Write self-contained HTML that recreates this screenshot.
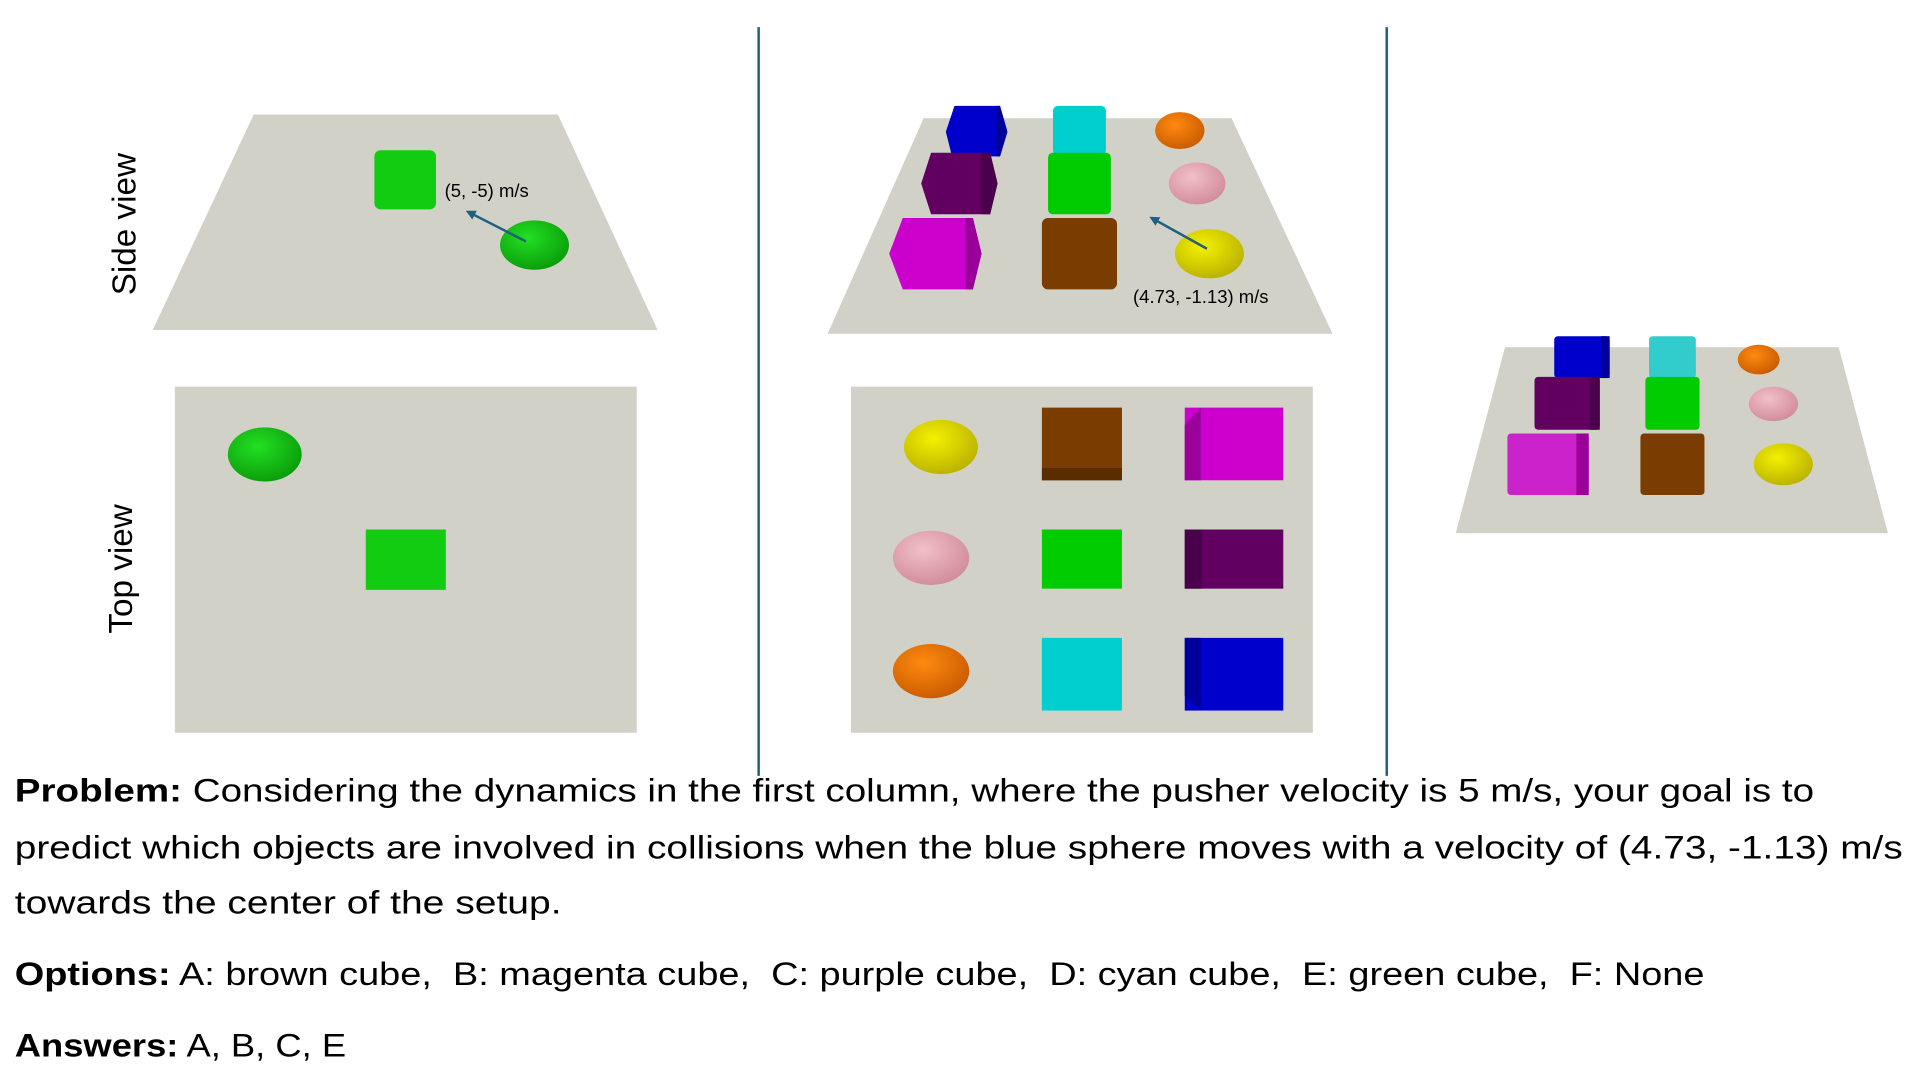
<!DOCTYPE html>
<html><head><meta charset="utf-8"><style>
html,body{margin:0;padding:0;background:#fff;width:1920px;height:1080px;overflow:hidden}
svg{display:block}
text{font-family:"Liberation Sans",sans-serif;fill:#000}
</style></head><body>
<svg width="1920" height="1080" viewBox="0 0 1559 877" preserveAspectRatio="none" xmlns="http://www.w3.org/2000/svg">
<defs>
<radialGradient id="gG" cx="40%" cy="35%" r="70%"><stop offset="0" stop-color="#22e022"/><stop offset="1" stop-color="#0a9a0a"/></radialGradient>
<radialGradient id="gY" cx="40%" cy="35%" r="70%"><stop offset="0" stop-color="#f5f000"/><stop offset="1" stop-color="#b8b000"/></radialGradient>
<radialGradient id="gP" cx="40%" cy="35%" r="70%"><stop offset="0" stop-color="#f2c0c8"/><stop offset="1" stop-color="#d08a98"/></radialGradient>
<radialGradient id="gO" cx="40%" cy="35%" r="70%"><stop offset="0" stop-color="#ff8a10"/><stop offset="1" stop-color="#c85a00"/></radialGradient>
<marker id="ar" markerWidth="8" markerHeight="8" refX="6" refY="4" orient="auto" markerUnits="userSpaceOnUse"><path d="M0,0 L8,4 L0,8 z" fill="#1f5f80"/></marker>
</defs>
<line x1="616" y1="22" x2="616" y2="630" stroke="#1f5f80" stroke-width="2"/>
<line x1="1126" y1="22" x2="1126" y2="630" stroke="#1f5f80" stroke-width="2"/>

<polygon points="206,93 453,93 534,268 124,268" fill="#d1d1c7"/>
<rect x="304" y="122" width="50" height="48" rx="5" fill="#11cc11"/>
<ellipse cx="434" cy="199" rx="28" ry="20" fill="url(#gG)"/>
<line x1="427" y1="196" x2="380" y2="172" stroke="#1f5f80" stroke-width="2" marker-end="url(#ar)"/>
<text x="361" y="160" font-size="15">(5, -5) m/s</text>
<text transform="translate(110,182) rotate(-90)" font-size="27" text-anchor="middle">Side view</text>

<rect x="142" y="314" width="375" height="281" fill="#d1d1c7"/>
<ellipse cx="215" cy="369" rx="30" ry="22" fill="url(#gG)"/>
<rect x="297" y="430" width="65" height="49" fill="#11cc11"/>
<text transform="translate(107,462) rotate(-90)" font-size="27" text-anchor="middle">Top view</text>

<polygon points="750,96 1000,96 1082,271 672,271" fill="#d1d1c7"/>
<polygon points="775,86 812,86 818,107 812,127 773,127 768,107" fill="#0000cc"/>
<polygon points="809,86 812,86 818,107 812,127 809,127" fill="#00009a"/>
<rect x="855" y="86" width="43" height="40" rx="4" fill="#00cfcf"/>
<ellipse cx="958" cy="106" rx="20" ry="15" fill="url(#gO)"/>
<polygon points="756,124 804,124 810,149 804,174 756,174 748,149" fill="#620062"/>
<polygon points="797,124 804,124 810,149 804,174 797,174" fill="#4a004a"/>
<rect x="851" y="124" width="51" height="50" rx="4" fill="#00cc00"/>
<ellipse cx="972" cy="149" rx="23" ry="17" fill="url(#gP)"/>
<polygon points="733,177 790,177 797,206 790,235 733,235 722,206" fill="#cc00cc"/>
<polygon points="784,177 790,177 797,206 790,235 784,235" fill="#9a009a"/>
<rect x="846" y="177" width="61" height="58" rx="5" fill="#7a3c00"/>
<ellipse cx="982" cy="206" rx="28" ry="20" fill="url(#gY)"/>
<line x1="980" y1="202" x2="935" y2="177" stroke="#1f5f80" stroke-width="2" marker-end="url(#ar)"/>
<text x="920" y="246" font-size="15">(4.73, -1.13) m/s</text>

<rect x="691" y="314" width="375" height="281" fill="#d1d1c7"/>
<ellipse cx="764" cy="363" rx="30" ry="22" fill="url(#gY)"/>
<rect x="846" y="331" width="65" height="59" fill="#7a3c00"/>
<rect x="846" y="380" width="65" height="10" fill="#5a2c00"/>
<rect x="962" y="331" width="80" height="59" fill="#cc00cc"/>
<polygon points="962,345 975,331 975,390 962,390" fill="#9a009a"/>
<ellipse cx="756" cy="453" rx="31" ry="22" fill="url(#gP)"/>
<rect x="846" y="430" width="65" height="48" fill="#00cc00"/>
<rect x="962" y="430" width="80" height="48" fill="#620062"/>
<rect x="962" y="430" width="14" height="48" fill="#4a004a"/>
<ellipse cx="756" cy="545" rx="31" ry="22" fill="url(#gO)"/>
<rect x="846" y="518" width="65" height="59" fill="#00cfcf"/>
<rect x="962" y="518" width="80" height="59" fill="#0000cc"/>
<polygon points="962,518 975,518 975,577 962,565" fill="#00009a"/>

<polygon points="1222,282 1493,282 1533,433 1182,433" fill="#d1d1c7"/>
<rect x="1262" y="273" width="45" height="34" rx="3" fill="#0000cc"/>
<rect x="1300" y="273" width="7" height="34" fill="#00009a"/>
<rect x="1339" y="273" width="38" height="34" rx="3" fill="#33cccc"/>
<ellipse cx="1428" cy="292" rx="17" ry="12" fill="url(#gO)"/>
<rect x="1246" y="306" width="53" height="43" rx="3" fill="#620062"/>
<rect x="1291" y="306" width="8" height="43" fill="#4a004a"/>
<rect x="1336" y="306" width="44" height="43" rx="3" fill="#00cc00"/>
<ellipse cx="1440" cy="328" rx="20" ry="14" fill="url(#gP)"/>
<rect x="1224" y="352" width="66" height="50" rx="3" fill="#cc22cc"/>
<rect x="1280" y="352" width="10" height="50" fill="#9a009a"/>
<rect x="1332" y="352" width="52" height="50" rx="3" fill="#7a3c00"/>
<ellipse cx="1448" cy="377" rx="24" ry="17" fill="url(#gY)"/>

<text x="12" y="651" font-size="26" textLength="1461" lengthAdjust="spacingAndGlyphs"><tspan font-weight="bold">Problem:</tspan> Considering the dynamics in the first column, where the pusher velocity is 5 m/s, your goal is to</text>
<text x="12" y="697" font-size="26" textLength="1533" lengthAdjust="spacingAndGlyphs">predict which objects are involved in collisions when the blue sphere moves with a velocity of (4.73, -1.13) m/s</text>
<text x="12" y="742" font-size="26" textLength="444" lengthAdjust="spacingAndGlyphs">towards the center of the setup.</text>
<text x="12" y="800" font-size="26" textLength="1372" lengthAdjust="spacingAndGlyphs"><tspan font-weight="bold">Options:</tspan> A: brown cube,&#160; B: magenta cube,&#160; C: purple cube,&#160; D: cyan cube,&#160; E: green cube,&#160; F: None</text>
<text x="12" y="858" font-size="26" textLength="269" lengthAdjust="spacingAndGlyphs"><tspan font-weight="bold">Answers:</tspan> A, B, C, E</text>
</svg>
</body></html>
